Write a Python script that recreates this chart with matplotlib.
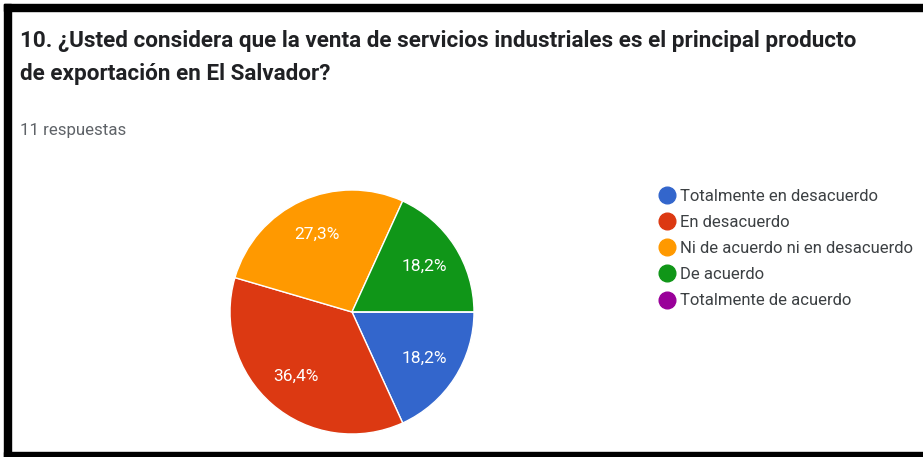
import matplotlib.pyplot as plt
from matplotlib.lines import Line2D
from matplotlib.patches import Rectangle

# datos de la encuesta
categorias = ['Totalmente en desacuerdo', 'En desacuerdo',
              'Ni de acuerdo ni en desacuerdo', 'De acuerdo',
              'Totalmente de acuerdo']
respuestas = [2, 4, 3, 2, 0]
colores = ['#3366cc', '#dc3912', '#ff9900', '#109618', '#990099']

titulo_1 = '10. ¿Usted considera que la venta de servicios industriales es el principal producto'
titulo_2 = 'de exportación en El Salvador?'
subtitulo = '11 respuestas'

W, H = 923, 457
fig = plt.figure(figsize=(W / 100, H / 100), dpi=100)
plt.rcParams['font.family'] = ['Roboto', 'DejaVu Sans']

# marco negro (arriba, izquierda, abajo)
fig.patches.append(Rectangle((4 / W, 1 - 11 / H), 1, 7 / H, transform=fig.transFigure,
                             color='black', zorder=0))
fig.patches.append(Rectangle((4 / W, 0), 7 / W, 1 - 4 / H, transform=fig.transFigure,
                             color='black', zorder=0))
fig.patches.append(Rectangle((4 / W, 0), 1, 5 / H, transform=fig.transFigure,
                             color='black', zorder=0))

fig.text(20 / W, 1 - 47 / H, titulo_1, fontsize=16.2, fontweight='bold', color='#202124',
         va='baseline')
fig.text(20 / W, 1 - 80 / H, titulo_2, fontsize=16.2, fontweight='bold', color='#202124',
         va='baseline')
fig.text(20 / W, 1 - 135 / H, subtitulo, fontsize=12.2, color='#5f6368', va='baseline')

# pastel
cx, cy, r = 352, 312, 122
ax = fig.add_axes([(cx - r) / W, (H - cy - r) / H, 2 * r / W, 2 * r / H])


def fmt(p):
    if p <= 0:
        return ''
    return f'{p:.1f}%'.replace('.', ',')


wedges, textos, autotextos = ax.pie(respuestas, colors=colores, startangle=0,
                                    counterclock=False, autopct=fmt, pctdistance=0.7,
                                    wedgeprops=dict(edgecolor='white', linewidth=1),
                                    textprops=dict(color='white', fontsize=12.5))
ax.set_xlim(-1, 1)
ax.set_ylim(-1, 1)
ax.set_aspect('equal')
ax.axis('off')

# leyenda
handles = [Line2D([], [], marker='o', linestyle='', markersize=12,
                  markerfacecolor=c, markeredgecolor=c) for c in colores]
fig.legend(handles, categorias, loc='upper left', bbox_to_anchor=(652 / W, 1 - 182 / H),
           frameon=False, fontsize=12, labelcolor='#3c4043', handletextpad=0.3,
           labelspacing=0.67, handlelength=1.0, borderaxespad=0)

fig.savefig('out.png', dpi=100)
